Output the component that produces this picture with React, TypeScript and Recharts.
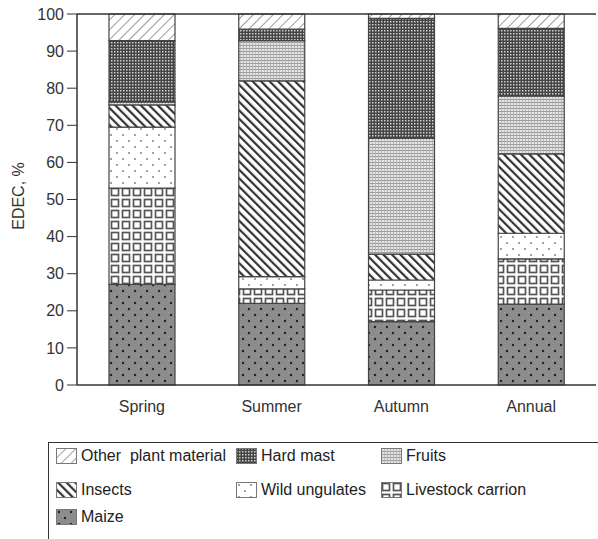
import { BarChart, Bar, XAxis, YAxis, ReferenceLine } from "recharts";

const seasons = ["Spring", "Summer", "Autumn", "Annual"];

// stacked bottom -> top
const maize = [27.1, 22.0, 17.1, 21.8];
const livestockCarrion = [26.0, 3.9, 8.5, 12.2];
const wildUngulates = [16.4, 3.3, 2.7, 6.9];
const insects = [6.0, 52.8, 7.0, 21.4];
const fruits = [0.8, 10.8, 31.2, 15.6];
const hardMast = [16.5, 3.1, 32.3, 18.2];
const otherPlant = [7.2, 4.1, 1.2, 3.9];

const yTicks = [0, 10, 20, 30, 40, 50, 60, 70, 80, 90, 100];

const series = [
  { key: "maize", name: "Maize", values: maize, fill: "url(#pMaize)" },
  { key: "livestock", name: "Livestock carrion", values: livestockCarrion, fill: "url(#pLivestock)" },
  { key: "wild", name: "Wild ungulates", values: wildUngulates, fill: "url(#pWild)" },
  { key: "insects", name: "Insects", values: insects, fill: "url(#pInsects)" },
  { key: "fruits", name: "Fruits", values: fruits, fill: "url(#pFruits)" },
  { key: "hardMast", name: "Hard mast", values: hardMast, fill: "url(#pHardMast)" },
  { key: "other", name: "Other plant material", values: otherPlant, fill: "url(#pOther)" },
];

// legend order as printed in the figure (row by row)
const legendOrder = ["other", "hardMast", "fruits", "insects", "wild", "livestock", "maize"];

const data = seasons.map((s, i) => {
  const row: Record<string, string | number> = { season: s };
  series.forEach((se) => {
    row[se.key] = se.values[i];
  });
  return row;
});

const FONT = '"Liberation Sans", Arial, sans-serif';

function Patterns() {
  return (
    <defs>
      <pattern id="pOther" width="7" height="7" patternUnits="userSpaceOnUse" patternTransform="rotate(45)">
        <rect width="7" height="7" fill="#fff" />
        <line x1="0" y1="0" x2="0" y2="7" stroke="#666" strokeWidth="1.3" />
      </pattern>
      <pattern id="pInsects" width="6" height="6" patternUnits="userSpaceOnUse" patternTransform="rotate(-45)">
        <rect width="6" height="6" fill="#fff" />
        <line x1="1" y1="0" x2="1" y2="6" stroke="#333" strokeWidth="2.4" />
      </pattern>
      <pattern id="pHardMast" width="3" height="3" patternUnits="userSpaceOnUse">
        <rect width="3" height="3" fill="#444" />
        <rect x="0" y="0" width="1.5" height="1.5" fill="#d0d0d0" />
      </pattern>
      <pattern id="pFruits" width="3" height="3" patternUnits="userSpaceOnUse">
        <rect width="3" height="3" fill="#e4e4e4" />
        <line x1="0" y1="0.5" x2="3" y2="0.5" stroke="#999" strokeWidth="1" />
        <line x1="0.5" y1="0" x2="0.5" y2="3" stroke="#b0b0b0" strokeWidth="0.8" />
      </pattern>
      <pattern id="pWild" width="12" height="12" patternUnits="userSpaceOnUse">
        <rect width="12" height="12" fill="#fff" />
        <circle cx="3" cy="3" r="0.9" fill="#777" />
        <circle cx="9" cy="9" r="0.9" fill="#777" />
      </pattern>
      <pattern id="pLivestock" width="11" height="11" patternUnits="userSpaceOnUse">
        <rect width="11" height="11" fill="#fff" />
        <rect x="1.5" y="1.5" width="7" height="7" fill="none" stroke="#555" strokeWidth="1.7" />
      </pattern>
      <pattern id="pMaize" width="12" height="12" patternUnits="userSpaceOnUse">
        <rect width="12" height="12" fill="#8c8c8c" />
        <rect x="0" y="0" width="1" height="1" fill="#a8a8a8" />
        <rect x="6" y="6" width="1" height="1" fill="#a8a8a8" />
        <circle cx="3" cy="3" r="1.2" fill="#222" />
        <circle cx="9" cy="9" r="1.2" fill="#222" />
      </pattern>
    </defs>
  );
}

function YLabel() {
  return (
    <text
      x={18}
      y={196}
      transform="rotate(-90 18 196)"
      textAnchor="middle"
      dominantBaseline="central"
      fontFamily={FONT}
      fontSize={16}
      fill="#333"
    >
      EDEC, %
    </text>
  );
}

function LegendBox() {
  const items = legendOrder.map((k) => series.find((s) => s.key === k)!);
  const cols = [55, 235, 380];
  const rows = [455, 489, 516];
  return (
    <div
      style={{
        position: "absolute",
        left: 48,
        top: 442,
        width: 580,
        height: 120,
        border: "1px solid #333",
        background: "#fff",
      }}
    >
      {items.map((it, i) => {
        const c = i % 3;
        const r = Math.floor(i / 3);
        return (
          <div
            key={it.key}
            style={{
              position: "absolute",
              left: cols[c] - 48,
              top: rows[r] - 442 - 10,
              display: "flex",
              alignItems: "center",
              height: 20,
              fontFamily: FONT,
              fontSize: 16,
              color: "#222",
              whiteSpace: "pre",
            }}
          >
            <svg width={21} height={16} style={{ marginRight: 4 }}>
              <rect x={0.5} y={0.5} width={20} height={15} fill={it.fill} stroke="#777" strokeWidth={1} />
            </svg>
            {it.name === "Other plant material" ? "Other  plant material" : it.name}
          </div>
        );
      })}
    </div>
  );
}

export default function App() {
  return (
    <div
      style={{
        position: "absolute",
        left: 0,
        top: 0,
        width: 598,
        height: 539,
        overflow: "hidden",
        background: "#fff",
      }}
    >
      <BarChart
        width={598}
        height={539}
        data={data}
        margin={{ top: 14, right: 2, bottom: 124, left: 0 }}
        barCategoryGap={0}
      >
        <Patterns />
        <XAxis
          dataKey="season"
          height={30}
          tickLine={false}
          tickSize={0}
          tickMargin={16}
          axisLine={{ stroke: "#333", strokeWidth: 1.5 }}
          tick={{ fill: "#333", fontSize: 16, fontFamily: FONT }}
        />
        <YAxis
          width={77}
          domain={[0, 100]}
          ticks={yTicks}
          interval={0}
          tickSize={10}
          tickMargin={3}
          axisLine={{ stroke: "#333", strokeWidth: 1.5 }}
          tickLine={{ stroke: "#333" }}
          tick={{ fill: "#333", fontSize: 16, fontFamily: FONT }}
        />
        <ReferenceLine y={100} stroke="#333" strokeWidth={1.5} />
        {series.map((s) => (
          <Bar
            key={s.key}
            dataKey={s.key}
            name={s.name}
            stackId="a"
            fill={s.fill}
            stroke="#444"
            strokeWidth={1.2}
            barSize={66}
            isAnimationActive={false}
          />
        ))}
        <YLabel />
      </BarChart>
      <LegendBox />
    </div>
  );
}
